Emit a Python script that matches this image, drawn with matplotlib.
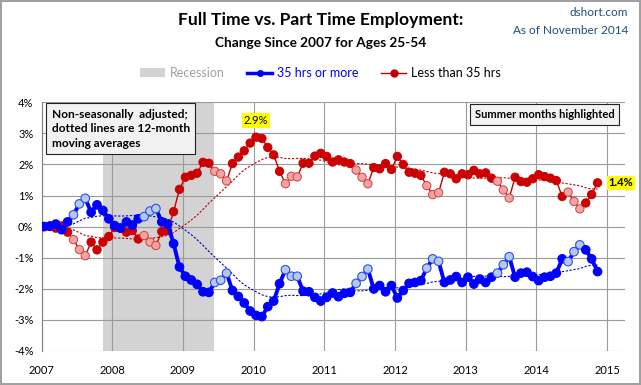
import numpy as np
import pandas as pd
import matplotlib
matplotlib.use("Agg")
import matplotlib.pyplot as plt
from matplotlib.lines import Line2D
from matplotlib.patches import Patch

plt.rcParams['font.family'] = ['Lato', 'DejaVu Sans']

# monthly % change since Jan 2007, ages 25-54 (Jan 2007 .. Nov 2014)
full_time = [
    0.0, 0.02, 0.08, -0.1, 0.15, 0.38, 0.73, 0.91, 0.46, 0.70, 0.52, 0.25,
    0.03, -0.05, 0.15, 0.05, 0.25, 0.32, 0.50, 0.58, 0.15, 0.08, -0.55, -1.30,
    -1.60, -1.72, -1.86, -2.10, -2.12, -1.80, -1.73, -1.50, -2.06, -2.25, -2.46, -2.72,
    -2.86, -2.90, -2.58, -2.40, -1.84, -1.39, -1.60, -1.60, -2.08, -2.10, -2.28, -2.40,
    -2.28, -2.14, -2.26, -2.15, -2.12, -1.83, -1.61, -1.37, -2.01, -1.90, -2.10, -1.90,
    -2.30, -2.06, -1.83, -1.80, -1.74, -1.34, -1.04, -1.12, -1.80, -1.72, -1.61, -1.80,
    -1.63, -1.85, -1.69, -1.80, -1.63, -1.50, -1.23, -0.97, -1.63, -1.50, -1.47, -1.61,
    -1.74, -1.63, -1.60, -1.50, -1.04, -1.13, -0.81, -0.59, -0.75, -1.04, -1.45,
]
part_time = [
    0.0, 0.0, -0.05, 0.02, -0.18, -0.42, -0.74, -0.94, -0.50, -0.75, -0.50, -0.32,
    -0.03, -0.05, -0.18, -0.13, -0.40, -0.29, -0.50, -0.61, -0.16, -0.13, 0.48, 1.20,
    1.59, 1.65, 1.72, 2.07, 2.04, 1.78, 1.70, 1.47, 2.03, 2.24, 2.44, 2.69,
    2.88, 2.84, 2.55, 2.31, 1.78, 1.38, 1.62, 1.60, 2.04, 2.04, 2.27, 2.36,
    2.26, 2.08, 2.15, 2.08, 2.03, 1.82, 1.59, 1.38, 1.90, 1.86, 2.03, 1.84,
    2.26, 2.00, 1.75, 1.72, 1.65, 1.32, 1.03, 1.09, 1.75, 1.70, 1.54, 1.70,
    1.67, 1.81, 1.70, 1.73, 1.56, 1.46, 1.18, 0.92, 1.59, 1.45, 1.43, 1.54,
    1.67, 1.61, 1.56, 1.48, 0.97, 1.11, 0.81, 0.57, 0.76, 1.03, 1.41,
]
years = [2007, 2008, 2009, 2010, 2011, 2012, 2013, 2014, 2015]
pct_ticks = [4, 3, 2, 1, 0, -1, -2, -3, -4]
recession = (2007.87, 2009.445)
summer = [5, 6, 7]  # Jun, Jul, Aug

n = len(full_time)
months = np.arange(n)
x = 2007 + (months + 0.4) / 12
is_summer = np.isin(months % 12, summer)
ft_ma = pd.Series(full_time).rolling(12, min_periods=4).mean()
pt_ma = pd.Series(part_time).rolling(12, min_periods=4).mean()

fig = plt.figure(figsize=(6.41, 3.85), dpi=100)
fig.patch.set_edgecolor('#a0a0a0')
fig.patch.set_linewidth(1.5)
ax = fig.add_axes([0.065, 0.089, 0.910, 0.645])

ax.axvspan(recession[0], recession[1], color='#d3d3d3', lw=0, zorder=0)

# part time (red)
ax.plot(x, part_time, color='#c00000', lw=1.0, zorder=3)
ax.scatter(x, part_time, s=36, zorder=4, linewidths=0.7,
           facecolors=np.where(is_summer, '#f4a3a3', '#cc0000'),
           edgecolors=np.where(is_summer, '#d04040', '#cc0000'))
ax.plot(x, pt_ma, color='#c00000', lw=0.8, ls=(0, (2, 1.5)), zorder=2)

# full time (blue)
ax.plot(x, full_time, color='#0000ff', lw=2.8, zorder=5)
ax.scatter(x, full_time, s=38, zorder=6, linewidths=0.8,
           facecolors=np.where(is_summer, '#b4c8f4', '#0000ff'),
           edgecolors=np.where(is_summer, '#3050e0', '#0000ff'))
ax.plot(x, ft_ma, color='#0000cc', lw=0.8, ls=(0, (2, 1.5)), zorder=2)

ax.set_xlim(2007, 2015.255)
ax.set_ylim(-4, 4)
ax.set_xticks(years)
ax.set_xticklabels([str(y) for y in years])
ax.set_yticks(pct_ticks)
ax.set_yticklabels([f'{t}%' for t in pct_ticks])
ax.tick_params(axis='y', length=0, labelsize=8, pad=6)
ax.tick_params(axis='x', length=0, labelsize=8, pad=10)
ax.grid(True, color='#9a9a9a', lw=0.8)
ax.set_axisbelow(True)
for s in ['top', 'right', 'bottom']:
    ax.spines[s].set_visible(False)
ax.spines['left'].set_color('#7f7f7f')

# peak and latest labels
ipk = int(np.argmax(part_time))
ax.annotate(f'{max(part_time):.1f}%', (x[ipk], part_time[ipk]), xytext=(0, 8),
            textcoords='offset points', ha='center', va='bottom', fontsize=8,
            bbox=dict(boxstyle='square,pad=0.15', fc='#ffff00', ec='none'))
ax.annotate(f'{part_time[-1]:.1f}%', (x[-1], part_time[-1]), xytext=(8, 0),
            textcoords='offset points', ha='left', va='center', fontsize=8,
            fontweight='bold',
            bbox=dict(boxstyle='square,pad=0.15', fc='#ffff00', ec='none'))

box = dict(boxstyle='square,pad=0.45', fc='#f2f2f2', ec='#222222', lw=0.8)
ax.text(0.017, 0.975, 'Non-seasonally  adjusted;\ndotted lines are 12-month\nmoving averages',
        transform=ax.transAxes, ha='left', va='top', fontsize=8.6, fontweight='bold',
        linespacing=1.4, bbox=box, zorder=8)
ax.text(0.982, 0.975, 'Summer months highlighted', transform=ax.transAxes,
        ha='right', va='top', fontsize=8, fontweight='bold', bbox=box, zorder=8)

fig.text(0.5, 1 - 20 / 385, 'Full Time vs. Part Time Employment:', ha='center',
         va='center', fontsize=12.6, fontweight='bold')
fig.text(0.5, 1 - 43 / 385, 'Change Since 2007 for Ages 25-54', ha='center',
         va='center', fontsize=9.8, fontweight='bold')
fig.text(0.98, 1 - 13 / 385, 'dshort.com', ha='right', va='center', fontsize=8.5,
         color='#1f4e79')
fig.text(0.98, 1 - 30 / 385, 'As of November 2014', ha='right', va='center',
         fontsize=8.5, color='#1f4e79')

handles = [Patch(fc='#d3d3d3', ec='none'),
           Line2D([], [], color='#0000ff', lw=2.5, marker='o', ms=4),
           Line2D([], [], color='#c00000', lw=1, marker='o', ms=5)]
leg = fig.legend(handles, ['Recession', '35 hrs or more', 'Less than 35 hrs'],
                 ncol=3, loc='center', bbox_to_anchor=(0.5, 1 - 73 / 385),
                 frameon=False, fontsize=9, handlelength=2.0, columnspacing=1.8,
                 handletextpad=0.4)
for t, c in zip(leg.get_texts(), ['#a0a0a0', '#0000ff', 'black']):
    t.set_color(c)

fig.savefig('out.png', dpi=100)
